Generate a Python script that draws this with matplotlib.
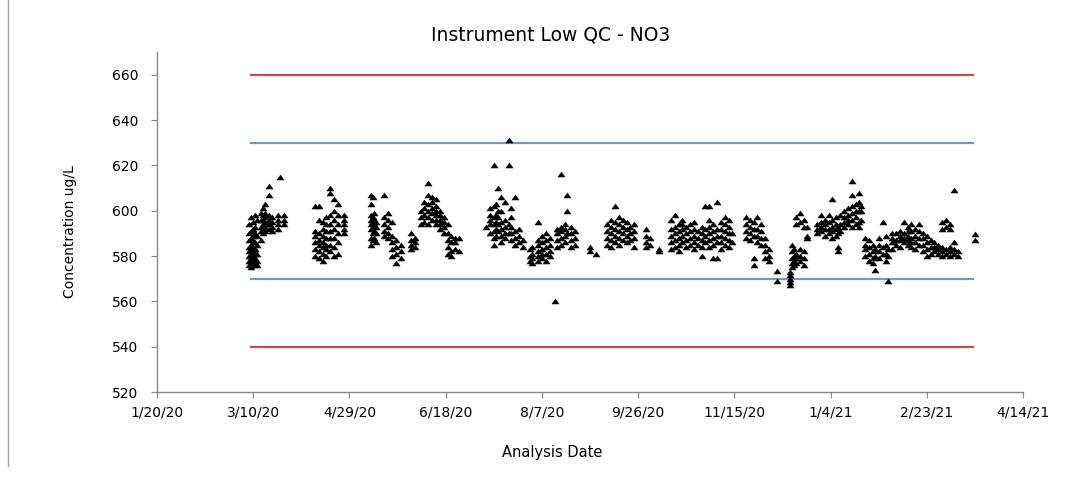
import matplotlib
matplotlib.use("Agg")
from matplotlib import pyplot as plt
from matplotlib.lines import Line2D
import pandas as pd

# QC results, one list of values per run date (ug/L)
run_dates = [
    "2020-03-08", "2020-03-09", "2020-03-10", "2020-03-11", "2020-03-12", "2020-03-14",
    "2020-03-15", "2020-03-16", "2020-03-18", "2020-03-20", "2020-03-23", "2020-03-24",
    "2020-03-26",
    "2020-04-11", "2020-04-13", "2020-04-15", "2020-04-17", "2020-04-19", "2020-04-21",
    "2020-04-23", "2020-04-26",
    "2020-05-10", "2020-05-11", "2020-05-12", "2020-05-13", "2020-05-17", "2020-05-19",
    "2020-05-21", "2020-05-23", "2020-05-26", "2020-05-31",
    "2020-06-02", "2020-06-05", "2020-06-07", "2020-06-09", "2020-06-11", "2020-06-13",
    "2020-06-15", "2020-06-17", "2020-06-19", "2020-06-21", "2020-06-23", "2020-06-25",
    "2020-07-09", "2020-07-11", "2020-07-13", "2020-07-14", "2020-07-15", "2020-07-17",
    "2020-07-19", "2020-07-21", "2020-07-22", "2020-07-24", "2020-07-26", "2020-07-28",
    "2020-08-01", "2020-08-02", "2020-08-05", "2020-08-07", "2020-08-09", "2020-08-11",
    "2020-08-14", "2020-08-15", "2020-08-17", "2020-08-19", "2020-08-20", "2020-08-22",
    "2020-08-24",
    "2020-09-01", "2020-09-04", "2020-09-10", "2020-09-12", "2020-09-14", "2020-09-16",
    "2020-09-18", "2020-09-20", "2020-09-22", "2020-09-24", "2020-09-30",
    "2020-10-02", "2020-10-07", "2020-10-13", "2020-10-15", "2020-10-17", "2020-10-19",
    "2020-10-21", "2020-10-23", "2020-10-25", "2020-10-27", "2020-10-29", "2020-10-31",
    "2020-11-02", "2020-11-04", "2020-11-06", "2020-11-08", "2020-11-10", "2020-11-12",
    "2020-11-14", "2020-11-21", "2020-11-23", "2020-11-25", "2020-11-27", "2020-11-29",
    "2020-12-01", "2020-12-03", "2020-12-07", "2020-12-14", "2020-12-15", "2020-12-16",
    "2020-12-17", "2020-12-19", "2020-12-21", "2020-12-23", "2020-12-28", "2020-12-30",
    "2021-01-01", "2021-01-03", "2021-01-05", "2021-01-07", "2021-01-08", "2021-01-09",
    "2021-01-11", "2021-01-13", "2021-01-15", "2021-01-17", "2021-01-19", "2021-01-20",
    "2021-01-22", "2021-01-24", "2021-01-26", "2021-01-27", "2021-01-29", "2021-01-31",
    "2021-02-02", "2021-02-03", "2021-02-05", "2021-02-07", "2021-02-09", "2021-02-11",
    "2021-02-13", "2021-02-15", "2021-02-17", "2021-02-19", "2021-02-21", "2021-02-23",
    "2021-02-25", "2021-02-27",
    "2021-03-01", "2021-03-03", "2021-03-05", "2021-03-07", "2021-03-09", "2021-03-11",
    "2021-03-20",
]

run_values = [
    [576, 578, 580, 582, 584, 587, 590, 594],
    [575, 577, 579, 581, 583, 585, 588, 591, 597],
    [576, 578, 580, 582, 584, 586, 589, 592, 595],
    [577, 579, 581, 583, 586, 590, 593, 598],
    [576, 578, 581, 585, 589, 596],
    [587, 591, 593, 596, 599],
    [590, 592, 594, 596, 598, 601],
    [591, 593, 595, 597, 599, 603],
    [592, 594, 596, 598, 607, 611],
    [591, 593, 595, 597],
    [592, 594, 596, 598],
    [615],
    [594, 596, 598],
    # april
    [580, 583, 586, 589, 591, 602],
    [579, 582, 585, 587, 590, 596, 602],
    [578, 581, 584, 586, 589, 592, 595],
    [580, 583, 585, 588, 591, 594, 597],
    [582, 585, 588, 591, 594, 598, 608, 610],
    [580, 584, 588, 592, 596, 600, 605],
    [581, 586, 590, 594, 598, 603],
    [590, 592, 594, 596, 598],
    # may
    [585, 588, 592, 594, 596, 598, 603, 607],
    [587, 590, 593, 595, 597, 606],
    [588, 591, 594, 596, 599],
    [586, 590, 593, 595],
    [589, 591, 594, 597, 607],
    [588, 590, 593, 596, 599],
    [580, 583, 586, 589, 595],
    [577, 581, 584, 587],
    [579, 582, 585],
    [583, 585, 587, 590],
    # june
    [584, 586, 588],
    [594, 597, 600],
    [595, 598, 601, 604],
    [594, 597, 600, 603, 607, 612],
    [596, 599, 601, 604, 606],
    [594, 596, 598, 600, 602, 605],
    [592, 594, 596, 598, 600],
    [590, 593, 595, 597],
    [581, 584, 587, 590, 594],
    [580, 582, 586, 589],
    [583, 586, 588],
    [582, 588],
    # july
    [593],
    [590, 594, 596, 598, 601],
    [585, 588, 591, 594, 597, 602, 620],
    [589, 592, 595, 598, 603],
    [591, 594, 597, 600, 610],
    [586, 589, 592, 595, 600, 606],
    [588, 590, 593, 596, 604],
    [590, 594, 620, 631],
    [587, 590, 593, 597, 601],
    [585, 588, 591, 606],
    [586, 589, 592],
    [584, 587],
    # august
    [578, 580, 583],
    [577, 579, 581, 584],
    [578, 580, 582, 585, 587, 595],
    [579, 581, 583, 586, 589],
    [578, 581, 584, 587, 590],
    [580, 582, 585, 588],
    [560],
    [584, 587, 590, 592],
    [585, 588, 591, 593, 616],
    [586, 589, 592, 594],
    [590, 600, 607],
    [584, 587, 590, 593],
    [585, 588, 591],
    # september
    [582, 584],
    [581],
    [585, 588, 591, 594],
    [584, 587, 590, 593, 596],
    [586, 589, 592, 595, 602],
    [585, 588, 591, 594, 597],
    [587, 590, 593, 596],
    [586, 589, 592, 595],
    [587, 590, 593],
    [584, 588, 591, 594],
    [584, 586, 589, 592],
    # october
    [585, 588],
    [582, 583],
    [583, 586, 589, 592, 596],
    [584, 587, 590, 593, 598],
    [582, 585, 588, 591, 594],
    [586, 589, 592, 594, 596],
    [584, 587, 590, 593],
    [585, 588, 591, 594],
    [583, 586, 589, 592, 595],
    [585, 588, 591],
    [580, 584, 587, 590, 593],
    [586, 589, 592, 602],
    # november
    [584, 587, 590, 593, 596, 602],
    [579, 585, 588, 591, 594],
    [579, 586, 589, 592, 604],
    [583, 586, 589, 592, 595],
    [585, 588, 591, 594, 597],
    [584, 587, 590, 593, 596],
    [586, 590],
    [588, 591, 594, 597],
    [587, 590, 593, 596],
    [576, 579, 589, 592, 595],
    [586, 589, 592, 597],
    [585, 588, 591, 594],
    # december
    [579, 582, 585, 588],
    [578, 580, 583],
    [569, 573.5],
    [567, 568.5, 570, 571.5, 573],
    [575, 577, 579, 582, 585],
    [576, 578, 580, 583],
    [577, 579, 581, 594, 597],
    [578, 580, 583, 595, 599],
    [576, 579, 582, 593, 596],
    [588, 589, 593],
    [590, 592, 594],
    [591, 593, 595, 598],
    # january
    [589, 592, 594, 596],
    [590, 592, 595, 598],
    [588, 591, 593, 596, 605],
    [589, 592, 594, 597],
    [582, 584, 590, 593],
    [591, 594, 598],
    [593, 595, 597, 600],
    [594, 596, 598, 601],
    [593, 596, 599, 602, 607, 613],
    [594, 597, 600, 603],
    [593, 595, 600, 604, 608],
    [596, 600, 602],
    [580, 583, 585, 588],
    [578, 581, 584, 587],
    [577, 579, 582, 585],
    [574, 580, 583],
    [579, 582, 585, 588],
    [581, 584, 595],
    # february
    [578, 581, 585, 589],
    [569, 580, 583],
    [583, 586, 588, 590],
    [585, 587, 590],
    [584, 587, 589, 591],
    [586, 588, 590, 595],
    [585, 587, 589, 591, 593],
    [584, 586, 588, 591, 594],
    [583, 586, 589, 592],
    [585, 588, 591, 594],
    [582, 585, 588, 590],
    [580, 583, 586, 589],
    [581, 584, 587],
    [582, 584, 586],
    # march
    [581, 583, 585],
    [580, 582, 584, 592, 595],
    [581, 583, 593, 596],
    [580, 582, 584, 592, 594],
    [581, 583, 586, 609],
    [580, 582],
    [587, 589.5],
]

# control / warning limits
limit_dates = ["2020-03-09", "2021-03-19"]
upper_control = 660
upper_warning = 630
lower_warning = 570
lower_control = 540

tick_dates = pd.date_range("2020-01-20", periods=10, freq="50D")

xs = []
ys = []
for d, vals in zip(run_dates, run_values):
    for v in vals:
        xs.append(pd.Timestamp(d))
        ys.append(v)

lim_x = pd.to_datetime(limit_dates)

fig = plt.figure(figsize=(10.76, 4.82), dpi=100)
ax = fig.add_axes([157 / 1076, 90 / 482, 866 / 1076, 340 / 482])

red = "#C0504D"
blue = "#7A96B8"
ax.plot(lim_x, [upper_control] * 2, color=red, lw=1.6)
ax.plot(lim_x, [upper_warning] * 2, color=blue, lw=1.6)
ax.plot(lim_x, [lower_warning] * 2, color=blue, lw=1.6)
ax.plot(lim_x, [lower_control] * 2, color=red, lw=1.6)

# slightly flattened triangle, like the excel marker
tri = [(-1, -0.7), (1, -0.7), (0, 0.7), (-1, -0.7)]
ax.plot(xs, ys, linestyle="none", marker=tri, color="black", markersize=5.2,
        markeredgewidth=0.3)

ax.set_xlim(tick_dates[0], tick_dates[-1])
ax.set_ylim(520, 670)
ax.set_yticks(range(520, 661, 20))
ax.set_xticks(tick_dates)
ax.set_xticklabels([f"{d.month}/{d.day}/{d:%y}" for d in tick_dates])

for s in ["top", "right"]:
    ax.spines[s].set_visible(False)
for s in ["left", "bottom"]:
    ax.spines[s].set_color("#868686")
    ax.spines[s].set_linewidth(1.0)

ax.tick_params(axis="both", direction="out", color="#868686", length=4.5,
               labelsize=10, labelcolor="black")
ax.tick_params(axis="y", pad=9)
ax.tick_params(axis="x", pad=5)

fig.text(551 / 1076, 1 - 35 / 482, "Instrument Low QC - NO3", ha="center",
         va="center", fontsize=13.5)
fig.text(552 / 1076, 1 - 452 / 482, "Analysis Date", ha="center", va="center",
         fontsize=10.5)
fig.text(70 / 1076, 1 - 232 / 482, "Concentration ug/L", ha="center",
         va="center", rotation=90, fontsize=10)

# chart area border on the left
fig.add_artist(Line2D([8 / 1076, 8 / 1076], [1 - 466 / 482, 1.0],
                      transform=fig.transFigure, color="#A0A0A0", lw=1.0))

fig.savefig("out.png", dpi=100)
